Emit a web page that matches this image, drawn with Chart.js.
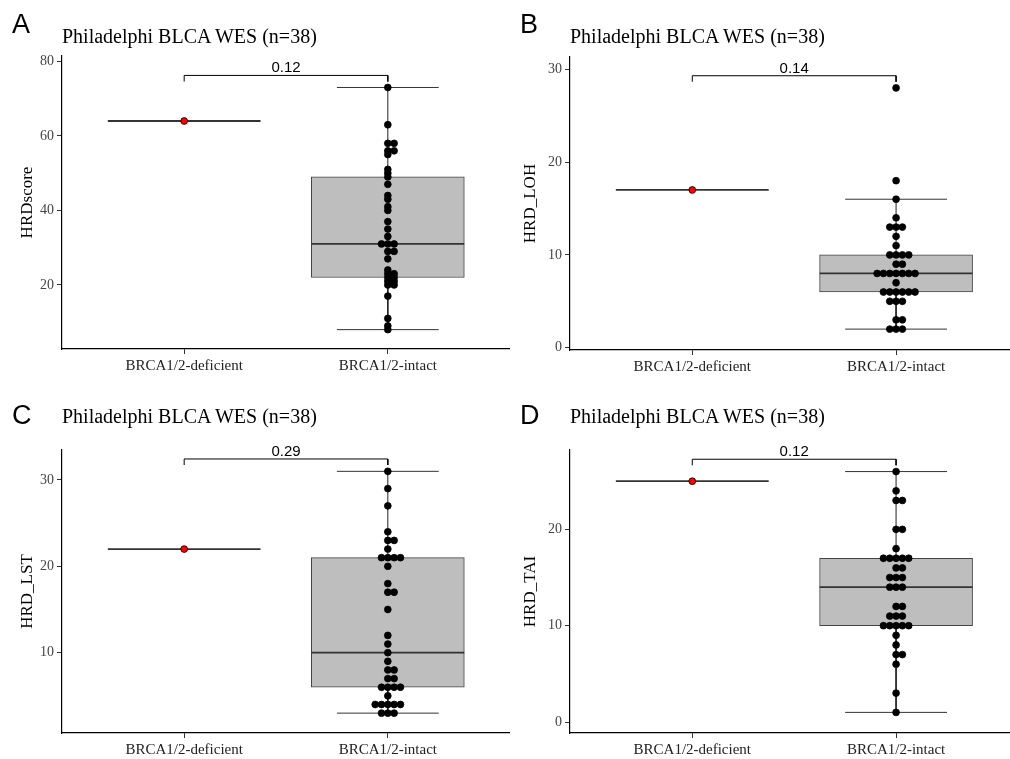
<!DOCTYPE html>
<html>
<head>
<meta charset="utf-8">
<script src="https://cdn.jsdelivr.net/npm/chart.js@4.4.0/dist/chart.umd.min.js"></script>
<style>
  body { margin: 0; background: #fff; }
  #wrap { position: relative; width: 1010px; height: 759px; overflow: hidden; }
  .box { position: absolute; }
  .letter { position: absolute; font-family: "Liberation Sans", Arial, sans-serif; font-size: 27px; line-height: 1; }
  .title { position: absolute; font-family: "Liberation Serif", serif; font-size: 20px; line-height: 1; white-space: nowrap; }
</style>
</head>
<body>
<div id="wrap">
  <div class="box" style="left:0;top:0;width:510px;height:380px"><canvas id="panelA"></canvas></div>
  <div class="box" style="left:508px;top:0;width:502px;height:380px"><canvas id="panelB"></canvas></div>
  <div class="box" style="left:0;top:380px;width:510px;height:379px"><canvas id="panelC"></canvas></div>
  <div class="box" style="left:508px;top:380px;width:502px;height:379px"><canvas id="panelD"></canvas></div>

  <div class="letter" style="left:12px;top:11px">A</div>
  <div class="letter" style="left:520px;top:11px">B</div>
  <div class="letter" style="left:12px;top:402px">C</div>
  <div class="letter" style="left:520px;top:402px">D</div>
  <div class="title" style="left:62px;top:26px">Philadelphi BLCA WES (n=38)</div>
  <div class="title" style="left:570px;top:26px">Philadelphi BLCA WES (n=38)</div>
  <div class="title" style="left:62px;top:406px">Philadelphi BLCA WES (n=38)</div>
  <div class="title" style="left:570px;top:406px">Philadelphi BLCA WES (n=38)</div>
</div>
<script>
// groups on the x axis
const categories = ["BRCA1/2-deficient", "BRCA1/2-intact"];

// A - HRDscore
const scoreDeficient = [64];
const scoreIntact = [73, 63, 58, 58, 56, 56, 55, 51, 50, 49, 47, 44, 43, 41, 40, 37, 35, 33, 31, 31, 31,
                     29, 29, 27, 24, 23, 23, 22, 22, 21, 21, 20, 20, 17, 11, 9, 8];
const scoreBox = [8, 22, 31, 49, 73];      // low whisker, q1, median, q3, high whisker
const scoreTicks = [20, 40, 60, 80];
const scoreP = "0.12";

// B - HRD_LOH
const lohDeficient = [17];
const lohIntact = [28, 18, 16, 14, 13, 13, 13, 12, 11, 10, 10, 10, 10, 9, 9, 8, 8, 8, 8, 8, 8, 8,
                   7, 6, 6, 6, 6, 6, 6, 5, 5, 5, 3, 3, 2, 2, 2];
const lohBox = [2, 6, 8, 10, 16];
const lohTicks = [0, 10, 20, 30];
const lohP = "0.14";

// C - HRD_LST
const lstDeficient = [22];
const lstIntact = [31, 29, 27, 24, 23, 23, 22, 21, 21, 21, 21, 20, 18, 17, 17, 15, 12, 11, 10, 9,
                   8, 8, 7, 7, 6, 6, 6, 6, 5, 4, 4, 4, 4, 4, 3, 3, 3];
const lstBox = [3, 6, 10, 21, 31];
const lstTicks = [10, 20, 30];
const lstP = "0.29";

// D - HRD_TAI
const taiDeficient = [25];
const taiIntact = [26, 24, 23, 23, 20, 20, 18, 17, 17, 17, 17, 17, 16, 16, 15, 15, 15, 14, 14, 14,
                   12, 12, 11, 11, 11, 10, 10, 10, 10, 10, 9, 8, 7, 7, 6, 3, 1];
const taiBox = [1, 10, 14, 17, 26];
const taiTicks = [0, 10, 20];
const taiP = "0.12";

const serif = '"Liberation Serif", "Times New Roman", serif';

// stack equal values side by side (centerwhole)
function swarm(values, center, step) {
  const counts = {};
  values.forEach(v => counts[v] = (counts[v] || 0) + 1);
  const pts = [];
  Object.keys(counts).forEach(k => {
    const n = counts[k];
    const start = -Math.floor((n - 1) / 2);
    for (let j = 0; j < n; j++) pts.push({ x: center + (start + j) * step, y: +k });
  });
  return pts;
}

const pLabel = {
  id: 'pLabel',
  afterDatasetsDraw(chart, args, opts) {
    const { ctx, scales } = chart;
    const x = scales.x.getPixelForValue(1.5);
    const y = scales.y.getPixelForValue(opts.y);
    ctx.save();
    ctx.font = '15px "Liberation Sans", Arial, sans-serif';
    ctx.fillStyle = '#000';
    ctx.textAlign = 'center';
    ctx.textBaseline = 'alphabetic';
    ctx.fillText(opts.text, x, y - 3);
    ctx.restore();
  }
};

function makePanel(id, p) {
  const boxes = [p.defBox, p.intBox];
  const med = [], whisk = [], caps = [];
  boxes.forEach((b, i) => {
    const c = i + 1;
    med.push({ x: c - 0.375, y: b[2] }, { x: c + 0.375, y: b[2] }, { x: c, y: null });
    whisk.push({ x: c, y: b[3] }, { x: c, y: b[4] }, { x: c, y: null },
               { x: c, y: b[1] }, { x: c, y: b[0] }, { x: c, y: null });
    if (b[4] > b[0]) {
      caps.push({ x: c - 0.25, y: b[4] }, { x: c + 0.25, y: b[4] }, { x: c, y: null },
                { x: c - 0.25, y: b[0] }, { x: c + 0.25, y: b[0] }, { x: c, y: null });
    }
  });
  const bracket = [{ x: 1, y: p.bracket[0] }, { x: 1, y: p.bracket[1] },
                   { x: 2, y: p.bracket[1] }, { x: 2, y: p.bracket[0] }];

  return new Chart(document.getElementById(id), {
    type: 'bar',
    data: {
      datasets: [
        {
          type: 'scatter', order: 0,
          data: swarm(p.deficient, 1, 0.031),
          pointRadius: 3.4, pointBackgroundColor: '#FF0000', pointBorderColor: '#000', pointBorderWidth: 0.8
        },
        {
          type: 'scatter', order: 0,
          data: swarm(p.intact, 2, 0.031),
          pointRadius: 3.4, pointBackgroundColor: '#000', pointBorderColor: '#000', pointBorderWidth: 0.8
        },
        {
          type: 'line', order: 1, data: med, borderColor: '#333', borderWidth: 1.8,
          pointRadius: 0, spanGaps: false
        },
        {
          type: 'line', order: 1, data: bracket, borderColor: '#000', borderWidth: 1,
          pointRadius: 0
        },
        {
          type: 'line', order: 2, data: whisk, borderColor: '#222', borderWidth: 1,
          pointRadius: 0, spanGaps: false
        },
        {
          type: 'line', order: 2, data: caps, borderColor: '#333', borderWidth: 1,
          pointRadius: 0, spanGaps: false
        },
        {
          type: 'bar', order: 3,
          data: boxes.map((b, i) => ({ x: i + 1, y: [b[1], b[3]] })),
          backgroundColor: '#BEBEBE', borderColor: '#444', borderWidth: 1, borderSkipped: false,
          barThickness: 153
        }
      ]
    },
    options: {
      animation: false,
      responsive: true,
      maintainAspectRatio: false,
      layout: { autoPadding: false, padding: { top: p.padTop, left: 0, right: 0, bottom: 0 } },
      plugins: {
        legend: { display: false },
        tooltip: { enabled: false },
        pLabel: { text: p.pText, y: p.bracket[1] }
      },
      scales: {
        x: {
          type: 'linear', min: 0.4, max: p.xMax, offset: false,
          afterBuildTicks: s => { s.ticks = [1, 2].map(v => ({ value: v })); },
          afterFit: s => { s.height = p.xHeight; s.paddingLeft = 0; s.paddingRight = 0; },
          ticks: { callback: v => categories[v - 1], font: { family: serif, size: 15 }, color: '#222', padding: 3, maxRotation: 0 },
          grid: { display: true, offset: false, drawOnChartArea: false, tickLength: 5, color: '#333' },
          border: { display: true, color: '#000', width: 1.2 }
        },
        y: {
          type: 'linear', min: p.yMin, max: p.yMax,
          afterBuildTicks: s => { s.ticks = p.ticks.map(v => ({ value: v })); },
          afterFit: s => { s.width = 62; },
          ticks: { font: { family: serif, size: 14 }, color: '#444', padding: 3 },
          grid: { display: true, drawOnChartArea: false, tickLength: 5, color: '#333' },
          border: { display: true, color: '#000', width: 1.2 },
          title: { display: true, text: p.yTitle, font: { family: serif, size: 17 }, color: '#000',
                   padding: { top: p.titlePad, bottom: 0 } }
        }
      }
    },
    plugins: [pLabel]
  });
}

makePanel('panelA', {
  deficient: scoreDeficient, intact: scoreIntact, defBox: [64, 64, 64, 64, 64], intBox: scoreBox,
  ticks: scoreTicks, pText: scoreP, bracket: [74.6, 76.24], yTitle: 'HRDscore',
  yMin: 2.8, yMax: 81.45, xMax: 2.6, padTop: 56, xHeight: 31, titlePad: 17
});
makePanel('panelB', {
  deficient: lohDeficient, intact: lohIntact, defBox: [17, 17, 17, 17, 17], intBox: lohBox,
  ticks: lohTicks, pText: lohP, bracket: [28.66, 29.31], yTitle: 'HRD_LOH',
  yMin: -0.25, yMax: 31.33, xMax: 2.559, padTop: 57, xHeight: 30, titlePad: 12
});
makePanel('panelC', {
  deficient: lstDeficient, intact: lstIntact, defBox: [22, 22, 22, 22, 22], intBox: lstBox,
  ticks: lstTicks, pText: lstP, bracket: [31.73, 32.43], yTitle: 'HRD_LST',
  yMin: 0.7, yMax: 33.47, xMax: 2.6, padTop: 70, xHeight: 26, titlePad: 17
});
makePanel('panelD', {
  deficient: taiDeficient, intact: taiIntact, defBox: [25, 25, 25, 25, 25], intBox: taiBox,
  ticks: taiTicks, pText: taiP, bracket: [26.65, 27.28], yTitle: 'HRD_TAI',
  yMin: -1.14, yMax: 28.24, xMax: 2.559, padTop: 70, xHeight: 26, titlePad: 12
});
</script>
</body>
</html>
